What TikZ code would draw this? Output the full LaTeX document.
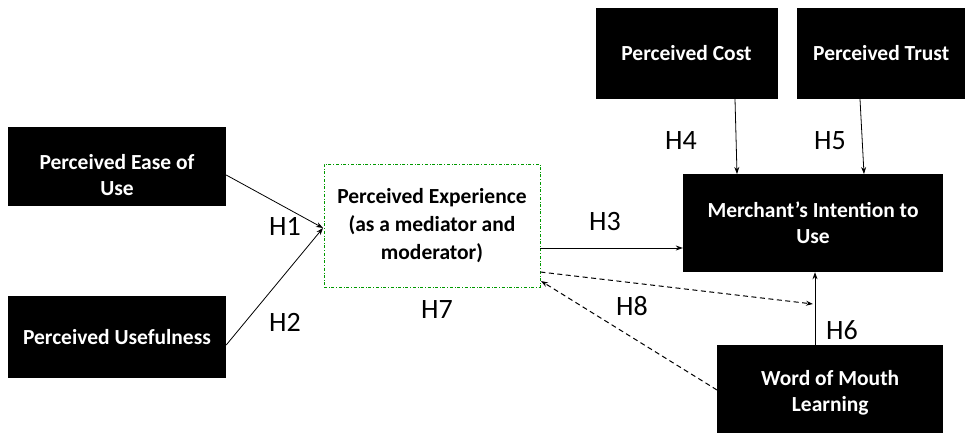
\documentclass[tikz,border=0pt]{standalone}
\usepackage{fontspec}
\setmainfont{Carlito}
\usetikzlibrary{arrows.meta}
\tikzset{
  blackbox/.style={fill=black,text=white,font=\fontsize{21.5}{26}\selectfont\bfseries,align=center,inner sep=0pt},
  hlabel/.style={font=\fontsize{28}{30}\selectfont},
  link/.style={-{Stealth[length=7pt,width=5pt]},line width=0.8pt},
  dashlink/.style={link,line width=1pt,dash pattern=on 5pt off 3.5pt},
}
\begin{document}
\begin{tikzpicture}[x=1pt,y=-1pt]
      \useasboundingbox (0,0) rectangle (965,433);
      \node[blackbox,minimum width=218,minimum height=79,text height=60pt] (ease) at (117,166) {Perceived Ease of\\Use};
      \node[blackbox,minimum width=218,minimum height=82] (useful) at (117,337) {Perceived Usefulness};
      \node[draw=green!60!black,dash dot,line width=0.8pt,font=\fontsize{21.5}{28}\selectfont\bfseries,align=center,minimum width=216,minimum height=123] (exper) at (432,225.5) {Perceived Experience\\(as a mediator and\\moderator)};
      \node[blackbox,minimum width=182,minimum height=91] (cost) at (686.5,53.5) {Perceived Cost};
      \node[blackbox,minimum width=168,minimum height=91,anchor=west] (trust) at (797,53.5) {Perceived Trust};
      \node[blackbox,minimum width=260,minimum height=98] (merch) at (813,223) {Merchant’s Intention to\\Use};
      \node[blackbox,minimum width=226,minimum height=88,anchor=north west,text height=48pt] (wom) at (717,345) {Word of Mouth\\Learning};

      \coordinate (inpt) at (323,228);
      \draw[link] (ease.east |- 0,175) -- (inpt);
      \draw[link] (useful.east |- 0,345) -- (inpt);
      \draw[link] (exper.east |- 0,248) -- (merch.west |- 0,248);
      \draw[link] (cost.south -| 735,0) -- (737,174);
      \draw[link] (trust.south -| 860,0) -- (864,174);
      \draw[link] (wom.north -| 815,0) -- (merch.south -| 815,0);
      \coordinate (mid) at (813,304);
      \draw[dashlink] (exper.east |- 0,272) -- (mid);
      \draw[dashlink] (wom.west |- 0,390) -- (541,281);

      \node[hlabel] (h1) at (285,226) {H1};
      \node[hlabel] (h2) at (285,322) {H2};
      \node[hlabel] (h3) at (605,222) {H3};
      \node[hlabel] (h4) at (681,141) {H4};
      \node[hlabel] (h5) at (830,141) {H5};
      \node[hlabel] (h6) at (842,330) {H6};
      \node[hlabel] (h7) at (437,310) {H7};
      \node[hlabel] (h8) at (632,306) {H8};
\end{tikzpicture}
\end{document}
